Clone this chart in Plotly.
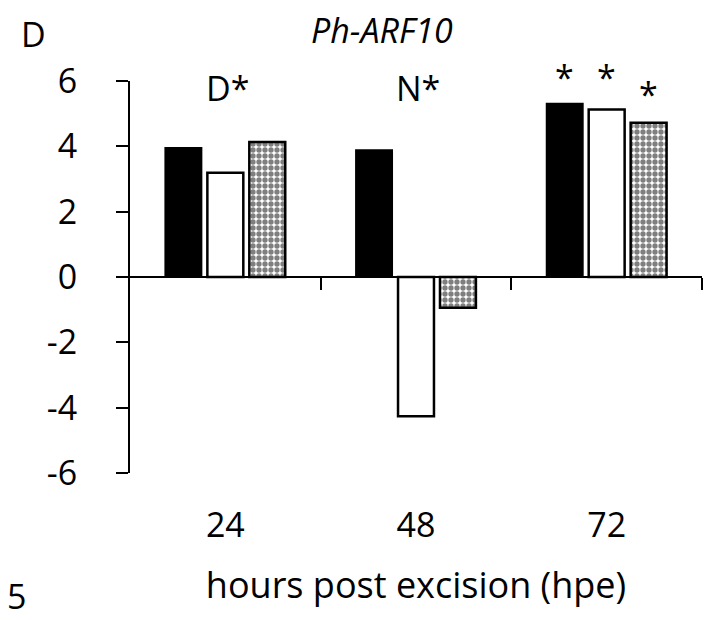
import plotly.graph_objects as go

# ---- data ----
categories = ["24", "48", "72"]
series_names = ["black", "white", "checkered"]
black_vals = [3.95, 3.88, 5.30]
white_vals = [3.19, -4.26, 5.13]
check_vals = [4.13, -0.94, 4.72]
group_labels = ["D*", "N*", ""]
group_label_y = [5.78, 5.78, None]
star_marks = {  # (category index, series index) -> y of "*"
    (2, 0): 6.32,
    (2, 1): 6.32,
    (2, 2): 5.78,
}
y_ticks = [-6, -4, -2, 0, 2, 4, 6]
y_ticktext = ["-6", "-4", "-2", "0", "2", "4", "6"]

FONT = "Open Sans"
FS = 34

W, H = 712, 620
ML, MR, MT, MB = 130, 10, 81, 147
YMIN, YMAX = -6, 6

bargap = 0.34
groupw = 1 - bargap
nser = 3
slot = groupw / nser

x_idx = list(range(len(categories)))

fig = go.Figure()
fig.add_trace(go.Bar(x=x_idx, y=black_vals, name=series_names[0],
                     marker=dict(color="black", line=dict(color="black", width=2))))
fig.add_trace(go.Bar(x=x_idx, y=white_vals, name=series_names[1],
                     marker=dict(color="white", line=dict(color="black", width=2.5))))
fig.add_trace(go.Bar(x=x_idx, y=check_vals, name=series_names[2],
                     marker=dict(color="white", line=dict(color="black", width=2.5),
                                 pattern=dict(shape=".", fgcolor="black", bgcolor="white",
                                              size=6, solidity=0.62, fillmode="overlay"))))

# invisible trace on the zero-line axis
fig.add_trace(go.Scatter(x=[-0.5, 2.5], y=[0, 0], xaxis="x2", mode="lines",
                         line=dict(color="rgba(0,0,0,0)"), hoverinfo="skip", showlegend=False))

ph = H - MT - MB
pw = W - ML - MR
px_per_unit = ph / (YMAX - YMIN)

annotations = []
for i, lab in enumerate(group_labels):
    if lab:
        annotations.append(dict(x=i, y=group_label_y[i], xref="x", yref="y", text=lab,
                                showarrow=False, font=dict(family=FONT, size=FS, color="black"),
                                xanchor="center", yanchor="middle", xshift=2))
for (ci, si), yv in star_marks.items():
    xpos = ci - groupw / 2 + slot * (si + 0.5)
    yy = min(yv, YMAX - 0.01)
    extra = (yv - yy) * px_per_unit
    annotations.append(dict(x=xpos, y=yy, xref="x", yref="y", text="*",
                            showarrow=False, font=dict(family=FONT, size=FS, color="black"),
                            xanchor="center", yanchor="middle", yshift=-6 + extra))


def paper_ann(text, px, py, size=FS):
    return dict(x=(px - ML) / pw, y=(H - py - MB) / ph, xref="paper", yref="paper",
                text=text, showarrow=False, font=dict(family=FONT, size=size, color="black"),
                xanchor="center", yanchor="middle")


annotations.append(paper_ann("<i>Ph-ARF10</i>", 382, 30))
annotations.append(paper_ann("D", 33, 34))
annotations.append(paper_ann("5", 16, 596))

fig.update_layout(
    width=W, height=H,
    margin=dict(l=ML, r=MR, t=MT, b=MB, autoexpand=False),
    paper_bgcolor="white", plot_bgcolor="white",
    barmode="group", bargap=bargap, bargroupgap=0.143,
    showlegend=False,
    font=dict(family=FONT, size=FS, color="black"),
    xaxis=dict(range=[-0.5, 2.5], tickvals=x_idx, ticktext=categories,
               showline=False, showgrid=False, zeroline=False,
               ticks="", ticklabelstandoff=29,
               title=dict(text="hours post excision (hpe)", standoff=26,
                          font=dict(family=FONT, size=36))),
    xaxis2=dict(range=[-0.5, 2.5], overlaying="x", anchor="free", position=0.5,
                side="bottom", tickvals=[0.5, 1.5, 2.5], showticklabels=False,
                ticks="outside", ticklen=12, tickwidth=2, tickcolor="black",
                showline=True, linecolor="black", linewidth=2,
                showgrid=False, zeroline=False),
    yaxis=dict(range=[YMIN, YMAX], tickvals=y_ticks, ticktext=y_ticktext,
               ticks="outside", ticklen=12,
               tickwidth=2, tickcolor="black", showline=True, linecolor="black",
               linewidth=2, showgrid=False, zeroline=False, ticklabelstandoff=32),
    annotations=annotations,
)

fig.write_html("out.html", config={"displayModeBar": False},
               post_script="document.body.style.margin='0';")
